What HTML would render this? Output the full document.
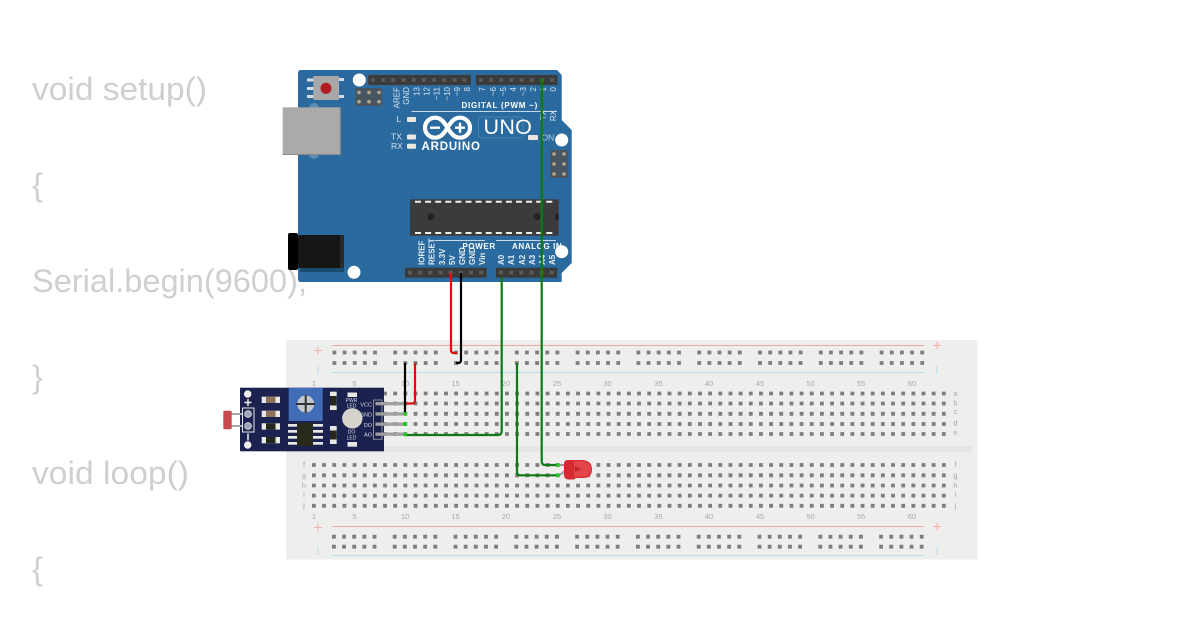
<!DOCTYPE html>
<html><head><meta charset="utf-8"><style>
html,body{margin:0;padding:0;background:#fff;width:1200px;height:630px;overflow:hidden}
svg{display:block}
text{font-family:"Liberation Sans",sans-serif}
</style></head><body>
<svg width="1200" height="630" viewBox="0 0 1200 630" xmlns="http://www.w3.org/2000/svg">
<defs><filter id="b" x="0" y="0" width="100%" height="100%" filterUnits="userSpaceOnUse" primitiveUnits="userSpaceOnUse"><feGaussianBlur stdDeviation="0.3"/></filter></defs>
<g font-size="32.5" fill="#cfcfcf">
<text x="32" y="100" textLength="175" lengthAdjust="spacingAndGlyphs">void setup()</text>
<text x="32" y="196">{</text>
<text x="32" y="292" textLength="275" lengthAdjust="spacingAndGlyphs">Serial.begin(9600);</text>
<text x="32" y="388">}</text>
<text x="32" y="484" textLength="157" lengthAdjust="spacingAndGlyphs">void loop()</text>
<text x="32" y="580">{</text>
</g>
<g filter="url(#b)">
<!-- breadboard -->
<rect x="286" y="340" width="691.5" height="219.5" rx="2" fill="#eeeeec"/>
<rect x="286" y="446" width="686" height="6.5" fill="#e5e5e3"/>
<g stroke-width="1">
<line x1="332" x2="924" y1="345.5" y2="345.5" stroke="#f0a8a0"/>
<line x1="332" x2="924" y1="372.5" y2="372.5" stroke="#b5dcec"/>
<line x1="332" x2="924" y1="526.5" y2="526.5" stroke="#f0a8a0"/>
<line x1="332" x2="924" y1="555.5" y2="555.5" stroke="#b5dcec"/>
<path d="M314 350.5h8M318 346.500v8M933 345.500h8M937 341.500v8M314 527.500h8M318 523.500v8M933 526.500h8M937 522.500v8" stroke="#f2b0a6" fill="none"/>
<path d="M318 366v8M937 366v8M318 547v8M937 547v8" stroke="#b5dcec" fill="none"/>
</g>
<g stroke="#7d7d7d" stroke-width="3.8" fill="none">
<g stroke-dasharray="3.8 6.35 3.8 6.35 3.800 6.35 3.8 6.35 3.8 16.4">
<line x1="332.500" x2="926" y1="352.500" y2="352.500"/>
<line x1="332.500" x2="926" y1="363" y2="363"/>
<line x1="332" x2="926" y1="536.700" y2="536.700"/>
<line x1="332" x2="926" y1="546.700" y2="546.700"/>
</g>
<g stroke-dasharray="3.8 6.36">
<line x1="312" x2="946" y1="393.500" y2="393.500"/>
<line x1="312" x2="946" y1="403.500" y2="403.500"/>
<line x1="312" x2="946" y1="413.800" y2="413.800"/>
<line x1="312" x2="946" y1="424" y2="424"/>
<line x1="312" x2="946" y1="434" y2="434"/>
<line x1="312" x2="946" y1="465" y2="465"/>
<line x1="312" x2="946" y1="475.300" y2="475.300"/>
<line x1="312" x2="946" y1="485.500" y2="485.500"/>
<line x1="312" x2="946" y1="495.600" y2="495.600"/>
<line x1="312" x2="946" y1="505.800" y2="505.800"/>
</g>
</g>
<g font-size="7.5" fill="#a8a8a8" text-anchor="middle">
<text x="314" y="386">1</text><text x="354.500" y="386">5</text><text x="405" y="386">10</text><text x="455.500" y="386">15</text><text x="506" y="386">20</text><text x="557" y="386">25</text><text x="607.500" y="386">30</text><text x="658.500" y="386">35</text><text x="709" y="386">40</text><text x="760" y="386">45</text><text x="810.500" y="386">50</text><text x="861" y="386">55</text><text x="912" y="386">60</text>
<text x="314" y="519">1</text><text x="354.500" y="519">5</text><text x="405" y="519">10</text><text x="455.500" y="519">15</text><text x="506" y="519">20</text><text x="557" y="519">25</text><text x="607.500" y="519">30</text><text x="658.500" y="519">35</text><text x="709" y="519">40</text><text x="760" y="519">45</text><text x="810.500" y="519">50</text><text x="861" y="519">55</text><text x="912" y="519">60</text>
<text x="955.500" y="396">a</text><text x="955.500" y="405.500">b</text><text x="955.500" y="414">c</text><text x="955.500" y="425.500">d</text><text x="955.500" y="435">e</text>
<text x="955.500" y="467">f</text><text x="955.500" y="478">g</text><text x="955.500" y="488">h</text><text x="955.500" y="497">i</text><text x="955.500" y="508">j</text>
<text x="304" y="467">f</text><text x="304" y="478">g</text><text x="304" y="488">h</text><text x="304" y="497">i</text><text x="304" y="508">j</text>
</g>

<!-- arduino -->
<path d="M301 70H557L561.700 75V120L571.700 130V263L561.700 273V282H301Q298 282 298 279V73Q298 70 301 70Z" fill="#2a6a9e"/>
<rect x="368.300" y="75" width="102.500" height="10" fill="#3b3b3b"/>
<rect x="476" y="75" width="81.300" height="10" fill="#3b3b3b"/>
<rect x="405" y="267.700" width="81.700" height="10" fill="#3b3b3b"/>
<rect x="496" y="267.700" width="61.300" height="10" fill="#3b3b3b"/>
<g stroke="#5c5c54" stroke-width="3.500" stroke-dasharray="4 6.170" fill="none">
<line x1="371" x2="470" y1="80" y2="80"/><line x1="479" x2="557" y1="80" y2="80"/>
<line x1="408" x2="486" y1="272.500" y2="272.500"/><line x1="499" x2="557" y1="272.500" y2="272.500"/>
</g>
<g fill="#fff">
<circle cx="359.300" cy="80" r="6.500"/><circle cx="561.700" cy="140" r="6.500"/><circle cx="354" cy="272.300" r="6.500"/><circle cx="561.700" cy="251.700" r="6.500"/>
</g>
<!-- reset -->
<path d="M307 78.500h8v3h-8zM307 87h8v3h-8zM307 95h8v3h-8zM336 78h8v3h-8zM336 95h8v3h-8z" fill="#d8dce0"/>
<rect x="313.300" y="76" width="25.700" height="24" rx="1" fill="#a8a8a8"/>
<circle cx="326" cy="88.300" r="5.500" fill="#b01c22"/>
<!-- icsp -->
<rect x="355" y="88" width="27" height="18" rx="1.500" fill="#4a5560"/>
<rect x="550" y="150" width="18" height="28" rx="1.500" fill="#4a5560"/>
<g fill="#b8a88c">
<circle cx="359" cy="92.500" r="1.800"/><circle cx="369" cy="92.500" r="1.800"/><circle cx="379" cy="92.500" r="1.800"/><circle cx="359" cy="101.700" r="1.800"/><circle cx="369" cy="101.700" r="1.800"/><circle cx="379" cy="101.700" r="1.800"/>
<circle cx="554" cy="154" r="1.800"/><circle cx="564" cy="154" r="1.800"/><circle cx="554" cy="164" r="1.800"/><circle cx="564" cy="164" r="1.800"/><circle cx="554" cy="174" r="1.800"/><circle cx="564" cy="174" r="1.800"/>
</g>
<!-- usb -->
<circle cx="314" cy="108" r="5" fill="#5b8db5"/><circle cx="314" cy="154" r="5" fill="#5b8db5"/>
<rect x="282.700" y="107.300" width="58" height="47.700" fill="#aaaaaa"/>
<path d="M339.700 107.300h1v47.700h-58v-1h57z" fill="#8a8a8a"/>
<!-- jack -->
<rect x="300" y="262" width="44" height="10" fill="#1d4b70"/>
<rect x="298" y="235" width="46" height="33" rx="2" fill="#141414"/>
<rect x="288" y="233" width="10" height="37" rx="2" fill="#060606"/>
<rect x="340" y="235" width="4" height="33" fill="#2a2a2a"/>
<!-- chip -->
<rect x="410" y="199.300" width="148.700" height="36.400" fill="#3a3a3c"/>
<g stroke="#f0f0ea" stroke-width="2" stroke-dasharray="6 4.100" fill="none">
<line x1="415" x2="556" y1="201.800" y2="201.800"/><line x1="415" x2="556" y1="233" y2="233"/>
</g>
<circle cx="431" cy="216.700" r="3.500" fill="#232325"/><circle cx="537" cy="216.700" r="3.500" fill="#232325"/><path d="M558.700 213a3.700 3.700 0 0 0 0 7.400z" fill="#232325"/>
<!-- logo -->
<g fill="none" stroke="#fff" stroke-width="4.200">
<path d="M447.500 127.700C443 120 439.500 117.700 435 117.700a10 10 0 0 0 0 20c4.500 0 8-2.300 12.500-10c4.500-7.700 8-10 12.500-10a10 10 0 0 1 0 20c-4.500 0-8-2.300-12.500-10z"/>
</g>
<path d="M430 126.500h10v2.400h-10zM455 126.500h10v2.400h-10zM458.800 122.700h2.400v10h-2.400z" fill="#fff"/>
<text x="421.500" y="150" font-size="11.500" font-weight="bold" fill="#fff" letter-spacing="0.800">ARDUINO</text>
<rect x="478.500" y="117" width="44.500" height="21" rx="3" fill="none" stroke="#4a82ad" stroke-width="1"/>
<text x="483.500" y="134" font-size="21.500" fill="#fff" letter-spacing="0.300">UNO</text>
<g fill="#e8e8e0">
<rect x="407" y="117" width="9" height="5" rx="1"/><rect x="407" y="134.500" width="9" height="5" rx="1"/><rect x="407" y="143.700" width="9" height="5" rx="1"/><rect x="528" y="135" width="10" height="5" rx="1"/>
</g>
<g font-size="8.500" fill="#d6e2ec">
<text x="396.500" y="122">L</text><text x="391" y="139.500">TX</text><text x="391" y="149">RX</text><text x="541.500" y="140.500" fill="#b9cfe0">ON</text>
</g>
<text x="461.500" y="108" font-size="8" font-weight="bold" fill="#fff" letter-spacing="0.750">DIGITAL (PWM ~)</text>
<line x1="411.500" x2="557" y1="111.500" y2="111.500" stroke="#fff" stroke-width="0.800"/>
<g font-size="8" fill="#d6e2ec" text-anchor="end">
<text transform="translate(399.500 87) rotate(-90)" text-anchor="end">AREF</text>
<text transform="translate(409 87) rotate(-90)" text-anchor="end">GND</text>
<text transform="translate(419.500 87) rotate(-90)" text-anchor="end">13</text>
<text transform="translate(429.500 87) rotate(-90)" text-anchor="end">12</text>
<text transform="translate(439.500 87) rotate(-90)" text-anchor="end">~11</text>
<text transform="translate(450 87) rotate(-90)" text-anchor="end">~10</text>
<text transform="translate(460 87) rotate(-90)" text-anchor="end">~9</text>
<text transform="translate(470 87) rotate(-90)" text-anchor="end">8</text>
<text transform="translate(485 87) rotate(-90)" text-anchor="end">7</text>
<text transform="translate(496 87) rotate(-90)" text-anchor="end">~6</text>
<text transform="translate(506 87) rotate(-90)" text-anchor="end">~5</text>
<text transform="translate(516 87) rotate(-90)" text-anchor="end">4</text>
<text transform="translate(526 87) rotate(-90)" text-anchor="end">~3</text>
<text transform="translate(536 87) rotate(-90)" text-anchor="end">2</text>
<text transform="translate(546 87) rotate(-90)" text-anchor="end">1</text>
<text transform="translate(556 87) rotate(-90)" text-anchor="end">0</text>
<text transform="translate(546 110) rotate(-90)">TX</text>
<text transform="translate(556 110) rotate(-90)">RX</text>
</g>
<g font-size="8" font-weight="bold" fill="#e4edf4">
<text transform="translate(424.500 265) rotate(-90)">IOREF</text>
<text transform="translate(434.700 265) rotate(-90)">RESET</text>
<text transform="translate(445 265) rotate(-90)">3.3V</text>
<text transform="translate(455 265) rotate(-90)">5V</text>
<text transform="translate(465 265) rotate(-90)">GND</text>
<text transform="translate(475 265) rotate(-90)">GND</text>
<text transform="translate(485 265) rotate(-90)">Vin</text>
<text transform="translate(504 265) rotate(-90)">A0</text>
<text transform="translate(514 265) rotate(-90)">A1</text>
<text transform="translate(525 265) rotate(-90)">A2</text>
<text transform="translate(535 265) rotate(-90)">A3</text>
<text transform="translate(545 265) rotate(-90)">A4</text>
<text transform="translate(555 265) rotate(-90)">A5</text>
</g>
<text x="462.500" y="249" font-size="8" font-weight="bold" fill="#fff" letter-spacing="0.600">POWER</text>
<text x="512" y="249" font-size="8" font-weight="bold" fill="#fff" letter-spacing="0.600">ANALOG IN</text>
<line x1="435" x2="485" y1="240.500" y2="240.500" stroke="#fff" stroke-width="0.700"/>
<line x1="496" x2="556" y1="240.500" y2="240.500" stroke="#fff" stroke-width="0.700"/>

<!-- sensor -->
<rect x="240" y="387.700" width="144" height="63.600" fill="#1a2450"/>
<rect x="288.700" y="387.700" width="34" height="33.300" fill="#3f6cb8"/>
<circle cx="305.700" cy="404" r="8.500" fill="#c4c8cc"/>
<path d="M296 404h19M305.700 395v18" stroke="#2f3138" stroke-width="2"/>
<circle cx="247.700" cy="394" r="3.700" fill="#eeeeee"/><circle cx="247.700" cy="445" r="3.700" fill="#eeeeee"/>
<path d="M244.500 402.500h7M248 399v7M248 433.500v7" stroke="#f0f0f0" stroke-width="1.500"/>
<path d="M230 414h12M230 426h12" stroke="#a8a8a8" stroke-width="2"/>
<rect x="242.500" y="408" width="11.500" height="24" fill="none" stroke="#e8e8e8" stroke-width="1"/>
<circle cx="248" cy="414" r="3.400" fill="#9ca6b8" stroke="#e8e8e8" stroke-width="0.800"/><circle cx="248" cy="426" r="3.400" fill="#9ca6b8" stroke="#e8e8e8" stroke-width="0.800"/>
<rect x="223.300" y="410.700" width="8.400" height="18.600" rx="1" fill="#c9464e"/>
<!-- smd -->
<g fill="#e8e8e4">
<rect x="261.700" y="396.700" width="18.300" height="6.300"/><rect x="261.700" y="410.700" width="18.300" height="6.300"/><rect x="261.700" y="423.300" width="18.300" height="6.300"/><rect x="261.700" y="437" width="18.300" height="6.300"/>
<rect x="330" y="391.700" width="6.700" height="18.300"/><rect x="330" y="426" width="6.700" height="18"/>
<rect x="288" y="424" width="9" height="2.700"/><rect x="288" y="430" width="9" height="2.700"/><rect x="288" y="436" width="9" height="2.700"/><rect x="288" y="442" width="9" height="2.700"/>
<rect x="313" y="424" width="10" height="2.700"/><rect x="313" y="430" width="10" height="2.700"/><rect x="313" y="436" width="10" height="2.700"/><rect x="313" y="442" width="10" height="2.700"/>
<rect x="347.500" y="392.500" width="9.500" height="4.500"/><rect x="347.500" y="442" width="9.500" height="4.700"/>
</g>
<rect x="266" y="396.700" width="9.500" height="6.300" fill="#8f6f5a"/><rect x="266" y="410.700" width="9.500" height="6.300" fill="#8f6f5a"/><rect x="266" y="423.300" width="9.500" height="6.300" fill="#28281c"/><rect x="266" y="437" width="9.500" height="6.300" fill="#28281c"/>
<rect x="330" y="396" width="6.700" height="9.500" fill="#28281c"/><rect x="330" y="430.500" width="6.700" height="9" fill="#28281c"/>
<rect x="297" y="423" width="16" height="23" fill="#2a2a1c"/>
<circle cx="352.300" cy="418.300" r="10.200" fill="#d6d2cc"/>
<g font-size="5" fill="#d8dce4" text-anchor="middle">
<text x="351.500" y="402">PWR</text><text x="351.500" y="407.500">LED</text><text x="351.500" y="433.500">DO</text><text x="351.500" y="439.500">LED</text>
</g>
<g font-size="5.500" fill="#d8dce4" text-anchor="end">
<text x="372" y="406.500">VCC</text><text x="372" y="416.500">GND</text><text x="372" y="427">DO</text><text x="372" y="436.500">AO</text>
</g>
<rect x="373.500" y="400" width="8.500" height="39.300" fill="none" stroke="#8c8c96" stroke-width="1"/>
<g fill="#a0a0a0">
<rect x="375.500" y="402" width="29.500" height="3.300"/><rect x="375.500" y="412.300" width="29.500" height="3.300"/><rect x="375.500" y="422.500" width="29.500" height="3.300"/><rect x="375.500" y="432.500" width="29.500" height="3.300"/>
</g>

<!-- LED -->
<path d="M558 465h6M560 475l6-5" stroke="#9a9a9a" stroke-width="2" fill="none"/>
<path d="M568 460H583Q592 461 592 469.500Q592 478 583 478L576 478L574 479.500H568Q564 479 564 475V464Q564 460 568 460Z" fill="#d62a30"/>
<path d="M574 461h9q7 1 8 8q-1 8-8 8h-9z" fill="#e4454a"/>
<path d="M575 466l6 3-6 3z" fill="#c0262c"/>

<!-- wires -->
<g fill="none" stroke-width="2.200" stroke-linejoin="round">
<path d="M451 273V350Q451 353 454 353H457" stroke="#e01010"/>
<path d="M461 273V360Q461 363 458 363H456" stroke="#000"/>
<path d="M415 363V400.500Q415 403.500 412 403.500H405" stroke="#e01010"/>
<path d="M405 363V413.800" stroke="#000"/>
<path d="M501.700 278V431Q501.700 435 498 435H405" stroke="#0a7a12"/>
<path d="M517 363V472Q517 475.300 520 475.300H560" stroke="#0a7a12"/>
<path d="M541.700 78V461Q541.700 465 545 465H558" stroke="#0a7a12"/>
</g>
<g fill="#28c828">
<circle cx="405" cy="413.800" r="1.800"/><rect x="403" y="422" width="4" height="4"/><circle cx="405" cy="434.500" r="2"/>
<circle cx="558" cy="465" r="2"/><circle cx="558" cy="475.300" r="2"/>
</g>
</g>
</svg>
</body></html>
